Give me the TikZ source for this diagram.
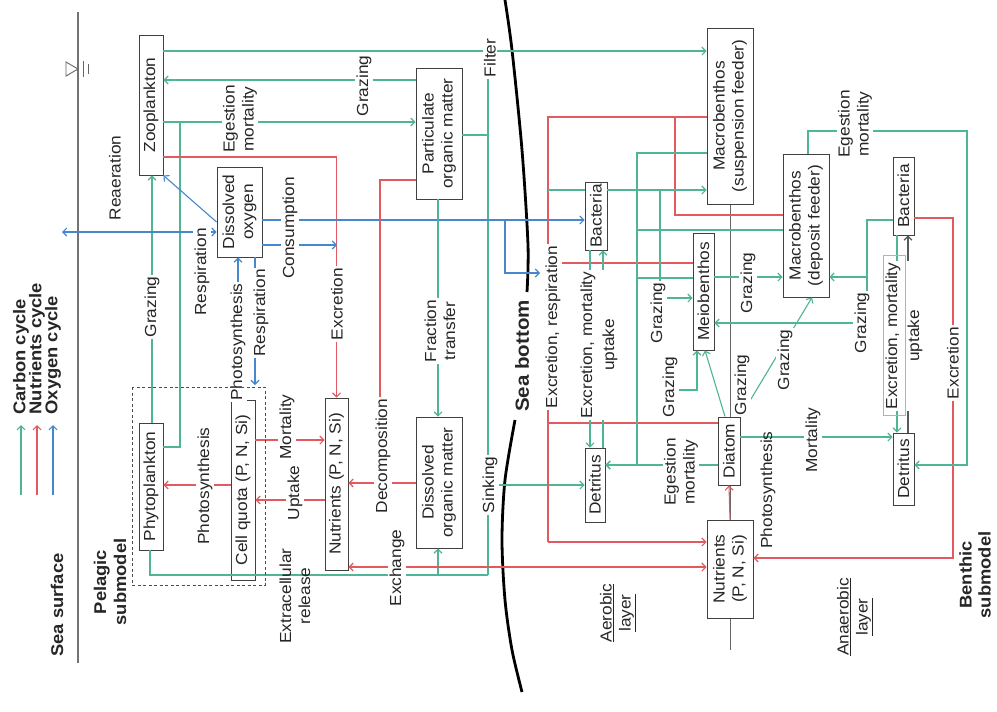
\documentclass[tikz,border=0pt]{standalone}
\usepackage{fontspec}
\setmainfont{Liberation Sans}[FakeStretch=1.08]
\usetikzlibrary{arrows.meta}
\definecolor{cgreen}{RGB}{80,180,150}
\definecolor{cred}{RGB}{225,90,95}
\definecolor{cblue}{RGB}{70,135,205}
\tikzset{
  box/.style={draw=black!75, fill=white, rotate=90, inner sep=0pt, align=center, line width=0.9pt, text=black!85},
  lbl/.style={rotate=90, fill=white, inner sep=1.5pt, align=center, text=black!85},
  bold/.style={rotate=90, align=center, font=\fontsize{17}{20}\selectfont\bfseries, text=black!85},
  gl/.style={cgreen, line width=1.1pt},
  rl/.style={cred, line width=1.1pt},
  bl/.style={cblue, line width=1.1pt},
  arw/.style={-{Straight Barb[length=4pt,width=8pt]}},
  arwb/.style={{Straight Barb[length=4pt,width=8pt]}-{Straight Barb[length=4pt,width=8pt]}},
}
\begin{document}
\begin{tikzpicture}[x=1pt,y=-1pt,font=\fontsize{16}{19}\selectfont]
\useasboundingbox[fill=white] (0,0) rectangle (997,712);

% sea surface with water level mark
\draw[black!55, line width=1.2pt] (78,12) -- (78,663);
\draw[black!60, line width=0.9pt] (66,62) -- (66,76) -- (78,69) -- cycle;
\draw[black!60, line width=0.9pt] (83,61) -- (83,77) (88,64) -- (88,74);

% sea bottom
\draw[black, line width=2.8pt] plot[smooth] coordinates {(505,0) (512,50) (522,150) (528,245) (527,292)};
\draw[black, line width=2.8pt] plot[smooth] coordinates {(515,420) (505,480) (502,540) (505,600) (512,650) (522,692)};

% legend
\draw[gl,arw] (21,495) -- (21,425);
\draw[rl,arw] (37,495) -- (37,425);
\draw[bl,arw] (53,495) -- (53,425);
\node[bold, anchor=west] (lc) at (21,418) {Carbon cycle};
\node[bold, anchor=west] (ln) at (37,418) {Nutrients cycle};
\node[bold, anchor=west] (lo) at (53,418) {Oxygen cycle};

% aerobic / anaerobic boundary
\coordinate (lb) at (730,650);
\draw[black!60, line width=1pt] (730,204) -- (lb);

% ---------------- boxes ----------------
\node[box, minimum width=140pt, minimum height=24pt] (zoo) at (151,105) {Zooplankton};
\node[box, minimum width=90pt, minimum height=45pt] (dox) at (239.5,212) {Dissolved\\oxygen};
\node[box, minimum width=131pt, minimum height=46pt] (pom) at (439,133.5) {Particulate\\organic matter};
\node[box, minimum width=127pt, minimum height=24pt] (phy) at (151,486.5) {Phytoplankton};
\node[box, minimum width=180pt, minimum height=24pt] (cq) at (243,490) {Cell quota (P,~N,~Si)};
\node[box, minimum width=172pt, minimum height=23pt] (nut) at (336.5,484) {Nutrients (P,~N,~Si)};
\node[box, minimum width=131pt, minimum height=46pt] (dom) at (439,482.5) {Dissolved\\organic matter};
\node[box, minimum width=176pt, minimum height=46pt] (msf) at (730,116) {Macrobenthos\\(suspension feeder)};
\node[box, minimum width=68pt, minimum height=22pt] (bac1) at (596,216) {Bacteria};
\node[box, minimum width=117pt, minimum height=21pt] (meio) at (703.5,291.5) {Meiobenthos};
\node[box, minimum width=143pt, minimum height=46pt] (mdf) at (806,225.5) {Macrobenthos\\(deposit feeder)};
\node[box, minimum width=78pt, minimum height=21pt] (bac2) at (903.5,196) {Bacteria};
\node[box, minimum width=74pt, minimum height=20pt] (det1) at (595,485) {Detritus};
\node[box, minimum width=68pt, minimum height=22pt] (dia) at (729,451) {Diatom};
\node[box, minimum width=98pt, minimum height=46pt] (nutb) at (730,569) {Nutrients\\(P,~N,~Si)};
\node[box, minimum width=72pt, minimum height=21pt] (det2) at (903.5,469) {Detritus};

% ---------------- pelagic flows ----------------
\coordinate (fj) at (488,51);
\coordinate (sj) at (488,575);
\draw[gl,arw] (zoo.south |- fj) -- (msf.north |- fj);
\draw[gl] (fj) -- (sj);
\draw[gl] (pom.south |- 0,135) -- (488,135);
\draw[gl,arw] (488,485) -- (det1.north |- 0,485);
\draw[gl,arw] (pom.north |- 0,80) -- (zoo.south |- 0,80);
\draw[gl,arw] (zoo.south |- 0,122) -- (pom.north |- 0,122);
\draw[gl] (180,122) -- (180,447) -- (phy.south |- 0,447);
\draw[gl,arw] (phy.east -| 152,0) -- (zoo.west -| 152,0);
\draw[rl,arw] (zoo.south |- 0,157) -| (nut.east);
\draw[bl,arwb] (62,232) -- (dox.north |- 0,232);
\draw[bl,arw] (dox.north |- 0,222) -- (zoo.south west);
\draw[bl,arw] (dox.south |- 0,220) -- (bac1.north |- 0,220);
\draw[bl,arw] (505,220) |- (540,273);
\draw[bl,arw] (dox.south |- 0,245) -- (337,245);
\draw[bl,arw] (238,387) -- (dox.west -| 238,0);
\draw[bl,arw] (dox.west -| 255,0) -- (255,385);
\draw[rl,arw] (cq.north |- 0,485) -- (phy.south |- 0,485);
\draw[rl,arw] (cq.south |- 0,440) -- (nut.north |- 0,440);
\draw[rl,arw] (nut.north |- 0,500) -- (cq.south |- 0,500);
\draw[rl] (pom.north |- 0,180) -| (380,483);
\draw[rl,arw] (dom.north |- 0,483) -- (nut.south |- 0,483);
\draw[gl,arw] (pom.west -| 438,0) -- (dom.east -| 438,0);
\draw[gl] (phy.west -| 150,0) |- (sj);
\draw[gl,arw] (438,575) -- (dom.west -| 438,0);
\draw[rl,arwb] (nut.south |- 0,567) -- (nutb.north |- 0,567);

% ---------------- benthic flows ----------------
\draw[rl] (msf.north |- 0,117) -| (548,542);
\draw[rl,arw] (548,542) -- (nutb.north |- 0,542);
\draw[rl] (mdf.north |- 0,215) -| (675,117);
\draw[rl] (meio.north |- 0,263) -- (548,263);
\draw[rl] (dia.north |- 0,423) -- (548,423);
\draw[rl,arw] (nutb.east) -- (dia.west);
\draw[rl,arw] (bac2.south |- 0,218) -| (953,558) -- (nutb.south |- 0,558);

\draw[gl] (548,190) -- (bac1.north |- 0,190);
\draw[gl,arw] (bac1.south |- 0,190) -- (msf.north |- 0,190);
\draw[gl,arw] (660,190) |- (meio.north |- 0,298);
\draw[gl,arw] (msf.north |- 0,153) -| (637,465) -- (det1.south |- 0,465);
\draw[gl] (mdf.north |- 0,230) -- (637,230);
\draw[gl] (637,278) -- (meio.north |- 0,278);
\draw[gl,arw] (dia.north |- 0,465) -- (det1.south |- 0,465);
\draw[gl,arw] (det1.east -| 603,0) -- (bac1.west -| 603,0);
\draw[gl,arw] (bac1.west -| 590,0) -- (det1.east -| 590,0);
\draw[gl,arw] (meio.south |- 0,277) -- (mdf.north |- 0,277);
\draw[gl] (bac2.north |- 0,220) -| (867,323);
\draw[gl,arw] (867,323) -- (meio.south |- 0,323);
\draw[gl,arw] (867,277) -- (mdf.south |- 0,277);
\draw[gl,arw] (dia.east -| 725,0) -- (meio.west -| 705,0);
\draw[gl,arw] (677,390) -| (meio.west -| 697,0);
\draw[gl,arw] (dia.south |- 0,437) -- (det2.north |- 0,437);
\draw[gl,arw] (mdf.east -| 808,0) |- (967,131) |- (det2.south |- 0,465);
\draw[gl,arw] (bac2.west -| 897,0) -- (det2.east -| 897,0);
\draw[black!65, line width=1.1pt, arw] (det2.east -| 908,0) -- (bac2.west -| 908,0);
\draw[gl,arw] (dia.south east) -- (mdf.west -| 812,0);

% ---------------- labels ----------------
\node[bold] (ss) at (57,605) {Sea surface};
\node[bold] (pel) at (110,582) {Pelagic\\submodel};
\node[bold, font=\fontsize{19}{22}\selectfont\bfseries] (sb) at (522,356) {Sea bottom};
\node[bold, font=\fontsize{17}{19}\selectfont\bfseries] (ben) at (975,575) {Benthic\\submodel};

\node[lbl] (l1) at (115,178) {Reaeration};
\node[lbl] (l2) at (364,86) {Grazing};
\node[lbl] (l3) at (240,119) {Egestion\\mortality};
\node[lbl] (l4) at (490,58) {Filter};
\node[lbl] (l5) at (152,307) {Grazing};
\node[lbl] (l6) at (202,272) {Respiration};
\node[lbl] (l7) at (238,342) {Photosynthesis};
\node[lbl] (l8) at (261,313) {Respiration};
\node[lbl] (l9) at (290,228) {Consumption};
\node[lbl] (l10) at (337,304) {Excretion};
\node[lbl] (l11) at (205,486) {Photosynthesis};
\node[lbl] (l12) at (287,427) {Mortality};
\node[lbl] (l13) at (295,493) {Uptake};
\node[lbl, fill=none] (l14) at (295,596) {Extracellular\\release};
\node[lbl] (l15) at (383,456) {Decomposition};
\node[lbl] (l16) at (440,331) {Fraction\\transfer};
\node[lbl] (l17) at (397,568) {Exchange};
\node[lbl] (l18) at (490,485) {Sinking};

\node[lbl] (l19) at (553,327) {Excretion, respiration};
\node[lbl, font=\fontsize{16}{22}\selectfont] (l20) at (599,345) {Excretion, mortality\\uptake};
\node[lbl] (l21) at (658,313) {Grazing};
\node[lbl] (l22) at (670,387) {Grazing};
\node[lbl] (l23) at (742,385) {Grazing};
\node[lbl] (l24) at (748,283) {Grazing};
\node[lbl] (l25) at (785,360) {Grazing};
\node[lbl] (l26) at (862,323) {Grazing};
\node[lbl] (l27) at (855,124) {Egestion\\mortality};
\node[lbl] (l28) at (681,472) {Egestion\\mortality};
\node[lbl] (l29) at (813,440) {Mortality};
\node[lbl, fill=none] (l30) at (768,490) {Photosynthesis};
\node[lbl, font=\fontsize{16}{22}\selectfont] (l31) at (904,336) {Excretion, mortality\\uptake};
\draw[cgreen!70, line width=0.8pt] (883,255) rectangle (905,415);
\node[lbl] (l32) at (953,363) {Excretion};
\node[lbl, fill=none] (l33) at (618,613) {\underline{Aerobic}\\\underline{layer}};
\node[lbl, fill=none] (l34) at (855,617) {\underline{Anaerobic}\\\underline{layer}};

% pelagic submodel frame
\draw[black!70, line width=0.9pt, dash pattern=on 3pt off 2.5pt] (132,387) rectangle (265,585);
\end{tikzpicture}
\end{document}
